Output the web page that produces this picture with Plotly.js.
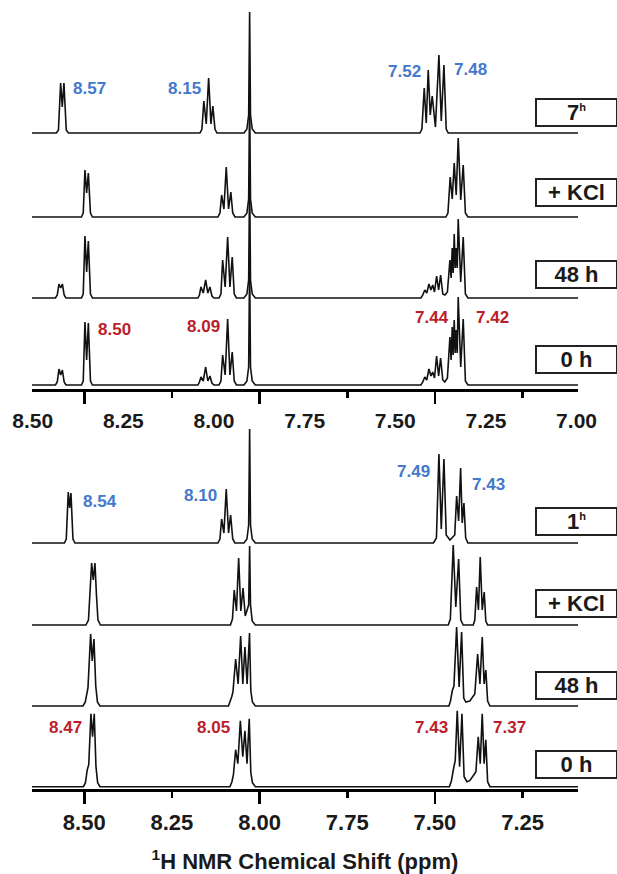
<!DOCTYPE html>
<html><head><meta charset="utf-8">
<script src="https://cdn.plot.ly/plotly-3.0.1.min.js"></script>
<style>html,body{margin:0;padding:0;background:#fff}#chart{width:617px;height:874px}</style>
</head><body><div id="chart"></div>
<script>
// ---------- DATA (chemical shift in ppm, intensity in arbitrary units) ----------
// Top panel spectra
const topH7_ppm = [8.65, 8.5793, 8.5736, 8.5673, 8.5627, 8.5579, 8.5513, 8.5451,
  8.1701, 8.1644, 8.1590, 8.1521, 8.1453, 8.1387, 8.1333, 8.1273, 8.1216,
  8.0446, 8.0361, 8.0312, 8.0284, 8.0259, 8.0210, 8.0122,
  7.5428, 7.5371, 7.5305, 7.5248, 7.5191, 7.5134, 7.5077, 7.4986, 7.4886, 7.4819, 7.4743, 7.4678, 7.4621, 7.09];
const topH7_int = [0, 0, 3, 50, 26, 50, 3, 0,
  0, 4, 32, 9, 55, 9, 27, 4, 0,
  0, 4, 18, 121, 18, 4, 0,
  0, 4, 45, 10, 63, 18, 37, 6, 78, 12, 68, 4, 0, 0];

const topKCl_ppm = [8.65, 8.5080, 8.5029, 8.4980, 8.4932, 8.4883, 8.4823, 8.4766,
  8.1188, 8.1131, 8.1082, 8.1017, 8.0951, 8.0885, 8.0820, 8.0766, 8.0703,
  8.0446, 8.0361, 8.0312, 8.0284, 8.0259, 8.0210, 8.0122,
  7.4687, 7.4629, 7.4564, 7.4507, 7.4450, 7.4393, 7.4336, 7.4264, 7.4193, 7.4131, 7.4059, 7.09];
const topKCl_int = [0, 0, 4, 47, 24, 44, 4, 0,
  0, 4, 22, 8, 50, 8, 25, 4, 0,
  0, 4, 18, 120, 18, 4, 0,
  0, 4, 40, 18, 54, 22, 79, 17, 52, 4, 0, 0];

const top48_ppm = [8.65, 8.5821, 8.5770, 8.5721, 8.5673, 8.5624, 8.5573, 8.5522,
  8.5080, 8.5029, 8.4980, 8.4932, 8.4883, 8.4823, 8.4766,
  8.1758, 8.1715, 8.1672, 8.1607, 8.1538, 8.1476, 8.1416, 8.1359, 8.1302,
  8.1159, 8.1102, 8.1054, 8.0982, 8.0911, 8.0846, 8.0780, 8.0723, 8.0660,
  8.0446, 8.0361, 8.0312, 8.0284, 8.0259, 8.0210, 8.0122,
  7.5399, 7.5346, 7.5289, 7.5232, 7.5171, 7.5114, 7.5063, 7.5012, 7.4952, 7.4895, 7.4838, 7.4776, 7.4718,
  7.4644, 7.4572, 7.4538, 7.4507, 7.4479, 7.4450, 7.4421, 7.4393, 7.4364, 7.4336, 7.4264, 7.4193, 7.4131, 7.4059, 7.09];
const top48_int = [0, 0, 3, 14, 10, 14, 3, 0,
  0, 4, 62, 26, 57, 4, 0,
  0, 3, 11, 5, 18, 5, 11, 2, 0,
  0, 4, 38, 11, 61, 11, 41, 4, 0,
  0, 4, 18, 120, 18, 4, 0,
  0, 3, 8, 5, 14, 8, 13, 6, 22, 8, 23, 4, 3,
  6, 38, 20, 50, 25, 64, 30, 50, 30, 79, 16, 61, 4, 0, 0];

const top0_ppm = top48_ppm.slice();
const top0_int = [0, 0, 3, 16, 10, 15, 3, 0,
  0, 4, 63, 25, 62, 4, 0,
  0, 3, 8, 4, 18, 4, 9, 2, 0,
  0, 4, 30, 10, 66, 10, 33, 4, 0,
  0, 4, 18, 120, 18, 4, 0,
  0, 3, 8, 5, 16, 9, 13, 7, 29, 9, 27, 5, 3,
  7, 48, 25, 58, 30, 65, 32, 55, 32, 88, 18, 66, 4, 0, 0];

// Bottom panel spectra
const botH1_ppm = [8.65, 8.5565, 8.5513, 8.5456, 8.5416, 8.5379, 8.5322, 8.5265,
  8.1188, 8.1131, 8.1082, 8.1017, 8.0951, 8.0885, 8.0826, 8.0766, 8.0703,
  8.0446, 8.0361, 8.0312, 8.0284, 8.0259, 8.0210, 8.0122,
  7.5043, 7.4957, 7.4886, 7.4819, 7.4743, 7.4678, 7.4572, 7.4435, 7.4381, 7.4324, 7.4267, 7.4222, 7.4173, 7.4122, 7.4059, 7.09];
const botH1_int = [0, 0, 4, 51, 35, 50, 4, 0,
  0, 4, 24, 10, 54, 10, 28, 4, 0,
  0, 4, 18, 114, 18, 4, 0,
  0, 5, 89, 14, 84, 8, 3, 8, 47, 22, 75, 20, 40, 5, 0, 0];

const botKCl_ppm = [8.65,
  8.4952, 8.4880, 8.4837, 8.4789, 8.4743, 8.4695, 8.4652, 8.4609, 8.4538,
  8.0831, 8.0774, 8.0723, 8.0660, 8.0597, 8.0535, 8.0472, 8.0409, 8.0312, 8.0284, 8.0259, 8.0210, 8.0122,
  7.4620, 7.4560, 7.4478, 7.4405, 7.4324, 7.4262, 7.4193,
  7.3908, 7.3863, 7.3811, 7.3759, 7.3708, 7.3651, 7.3594, 7.3549, 7.3497,
  7.09];
const botKCl_int = [0,
  0, 5, 30, 62, 45, 62, 30, 5, 0,
  0, 6, 35, 14, 67, 14, 37, 9, 20, 79, 20, 4, 0,
  0, 6, 80, 18, 66, 5, 0,
  0, 5, 38, 15, 68, 15, 33, 4, 0,
  0];

const bot48_ppm = [8.65,
  8.5037, 8.4971, 8.4932, 8.4894, 8.4818, 8.4772, 8.4723, 8.4672, 8.4624, 8.4552,
  8.0888, 8.0831, 8.0797, 8.0760, 8.0683, 8.0612, 8.0540, 8.0478, 8.0418, 8.0356, 8.0287, 8.0250, 8.0204, 8.0122,
  7.4601, 7.4556, 7.4507, 7.4458, 7.4381, 7.4310, 7.4239, 7.4178, 7.4120, 7.4006, 7.3908, 7.3863,
  7.3782, 7.3717, 7.3651, 7.3597, 7.3549, 7.3497, 7.3432,
  7.09];
const bot48_int = [0,
  0, 4, 12, 18, 72, 45, 67, 20, 4, 0,
  0, 5, 9, 14, 47, 22, 70, 22, 59, 22, 73, 15, 4, 0,
  0, 5, 15, 20, 79, 19, 74, 8, 4, 5, 10, 12,
  52, 22, 69, 22, 36, 5, 0,
  0];

const bot0_ppm = [8.65,
  8.5023, 8.4966, 8.4914, 8.4872, 8.4809, 8.4763, 8.4715, 8.4666, 8.4618, 8.4552,
  8.0846, 8.0789, 8.0746, 8.0683, 8.0620, 8.0549, 8.0480, 8.0418, 8.0358, 8.0295, 8.0250, 8.0204, 8.0122,
  7.4587, 7.4530, 7.4458, 7.4421, 7.4364, 7.4296, 7.4230, 7.4168, 7.4088, 7.4006, 7.3888, 7.3831,
  7.3765, 7.3708, 7.3651, 7.3597, 7.3549, 7.3497, 7.3432,
  7.09];
const bot0_int = [0,
  0, 4, 17, 22, 73, 50, 73, 20, 4, 0,
  0, 5, 12, 37, 23, 66, 30, 56, 23, 68, 14, 4, 0,
  0, 6, 20, 26, 76, 20, 73, 10, 5, 6, 12, 15,
  50, 23, 73, 23, 47, 5, 0,
  0];

// Labels
const topSpectrumLabels = ['7<sup><span style="font-size:11px">h</span></sup>', '+ KCl', '48 h', '0 h'];
const botSpectrumLabels = ['1<sup><span style="font-size:11px">h</span></sup>', '+ KCl', '48 h', '0 h'];
const topTickVals = [8.5, 8.25, 8.0, 7.75, 7.5, 7.25, 7.0];
const topTickText = ['8.50', '8.25', '8.00', '7.75', '7.50', '7.25', '7.00'];
const botTickVals = [8.5, 8.25, 8.0, 7.75, 7.5, 7.25];
const botTickText = ['8.50', '8.25', '8.00', '7.75', '7.50', '7.25'];
const topShiftsAfter = ['8.57', '8.15', '7.52', '7.48'];
const topShiftsBefore = ['8.50', '8.09', '7.44', '7.42'];
const botShiftsAfter = ['8.54', '8.10', '7.49', '7.43'];
const botShiftsBefore = ['8.47', '8.05', '7.43', '7.37'];

// ---------- LAYOUT / STYLE ----------
const FONT = 'Liberation Sans, Arial, Helvetica, sans-serif';
const BLUE = '#4478cc';
const RED = '#bb1e2a';
const LINE = '#111';
const topOffsets = [256, 172, 91, 4];   // stacking of 7h, +KCl, 48h, 0h
const botOffsets = [246, 164, 83, 2.3];
const topAnnPos = [[8.4852, 300.5], [8.2129, 301], [7.5870, 318], [7.3988, 319.5]];
const topAnnPosB = [[8.4125, 60], [8.1587, 63], [7.5086, 72], [7.3361, 72]];
const botAnnPos = [[8.4552, 288], [8.1687, 294], [7.5599, 318], [7.3464, 304.7]];
const botAnnPosB = [[8.5530, 62], [8.1302, 62], [7.5086, 62], [7.2870, 62]];
const topBoxY = [0.85741, 0.75539, 0.65146, 0.54373];
const botBoxY = [0.33904, 0.23511, 0.13181, 0.03105];

const topSets = [[topH7_ppm, topH7_int], [topKCl_ppm, topKCl_int], [top48_ppm, top48_int], [top0_ppm, top0_int]];
const botSets = [[botH1_ppm, botH1_int], [botKCl_ppm, botKCl_int], [bot48_ppm, bot48_int], [bot0_ppm, bot0_int]];

const traces = [];
topSets.forEach((s, i) => traces.push({x: s[0], y: s[1].map(v => v + topOffsets[i]), xaxis: 'x', yaxis: 'y',
  mode: 'lines', line: {color: LINE, width: 1.6}, hoverinfo: 'skip'}));
botSets.forEach((s, i) => traces.push({x: s[0], y: s[1].map(v => v + botOffsets[i]), xaxis: 'x2', yaxis: 'y2',
  mode: 'lines', line: {color: LINE, width: 1.6}, hoverinfo: 'skip'}));
// invisible carriers so the label-only overlay axes are drawn
traces.push({x: topTickVals, y: topTickVals.map(() => 0), xaxis: 'x3', yaxis: 'y', mode: 'markers',
  marker: {opacity: 0, size: 1}, hoverinfo: 'skip'});
traces.push({x: botTickVals, y: botTickVals.map(() => 0), xaxis: 'x4', yaxis: 'y2', mode: 'markers',
  marker: {opacity: 0, size: 1}, hoverinfo: 'skip'});

const dataAxis = (anchor) => ({
  anchor: anchor, range: [8.649, 7.092], showline: true, linecolor: '#000', linewidth: 2.5,
  ticks: 'outside', ticklen: 12, tickwidth: 2.5, tickcolor: '#000', tick0: 8.5, dtick: 0.5,
  showticklabels: false, showgrid: false, zeroline: false, fixedrange: true,
  minor: {ticks: 'outside', ticklen: 6, tickwidth: 2.5, tickcolor: '#000', tick0: 8.5, dtick: 0.25, showgrid: false}
});

const annotations = [];
const addShift = (txt, pos, color, xr, yr) => annotations.push({xref: xr, yref: yr, x: pos[0], y: pos[1], text: txt,
  showarrow: false, xanchor: 'center', yanchor: 'middle', font: {family: FONT, size: 17, color: color, weight: 'bold'}});
topShiftsAfter.forEach((t, i) => addShift(t, topAnnPos[i], BLUE, 'x', 'y'));
topShiftsBefore.forEach((t, i) => addShift(t, topAnnPosB[i], RED, 'x', 'y'));
botShiftsAfter.forEach((t, i) => addShift(t, botAnnPos[i], BLUE, 'x2', 'y2'));
botShiftsBefore.forEach((t, i) => addShift(t, botAnnPosB[i], RED, 'x2', 'y2'));
const addBox = (txt, y) => annotations.push({xref: 'paper', yref: 'paper', x: 0.99634, y: y, text: txt,
  showarrow: false, xanchor: 'center', yanchor: 'middle', bgcolor: '#fff', bordercolor: '#222', borderwidth: 2,
  borderpad: 1, width: 77, height: 23, font: {family: FONT, size: 22, color: '#1a1a1a', weight: 'bold'}});
topSpectrumLabels.forEach((t, i) => addBox(t, topBoxY[i]));
botSpectrumLabels.forEach((t, i) => addBox(t, botBoxY[i]));

const layout = {
  width: 617, height: 874, margin: {l: 32, r: 39, t: 0, b: 85},
  paper_bgcolor: '#fff', plot_bgcolor: 'rgba(0,0,0,0)', showlegend: false,
  xaxis: Object.assign(dataAxis('y'), {domain: [0, 1]}),
  xaxis2: Object.assign(dataAxis('y2'), {domain: [0, 1]}),
  xaxis3: {overlaying: 'x', anchor: 'y', range: [8.502, 6.996], showline: false, ticks: '',
    tickmode: 'array', tickvals: topTickVals, ticktext: topTickText, ticklabelstandoff: 17,
    tickfont: {family: FONT, size: 21, color: '#1a1a1a', weight: 'bold'}, showgrid: false, zeroline: false, fixedrange: true},
  xaxis4: {overlaying: 'x2', anchor: 'y2', range: [8.649, 7.092], showline: false, ticks: '',
    tickmode: 'array', tickvals: botTickVals, ticktext: botTickText, ticklabelstandoff: 18,
    tickfont: {family: FONT, size: 22, color: '#1a1a1a', weight: 'bold'}, showgrid: false, zeroline: false, fixedrange: true,
    title: {text: '<sup>1</sup>H NMR Chemical Shift (ppm)', standoff: 22,
      font: {family: FONT, size: 22, color: '#1a1a1a', weight: 'bold'}}},
  yaxis: {domain: [0.50697, 1], range: [0, 389], visible: false, fixedrange: true},
  yaxis2: {domain: [0, 0.46768], range: [0, 369], visible: false, fixedrange: true},
  annotations: annotations
};

Plotly.newPlot('chart', traces, layout, {displayModeBar: false, staticPlot: true});
</script></body></html>
